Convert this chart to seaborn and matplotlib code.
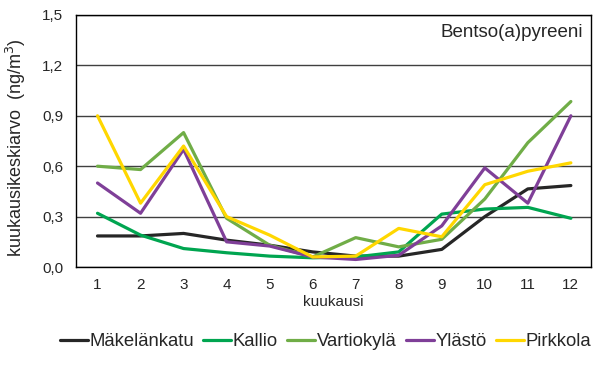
import pandas as pd
import numpy as np
import matplotlib
matplotlib.use("Agg")
import matplotlib.pyplot as plt
import seaborn as sns

# kuukausikeskiarvot (ng/m3), luettu kuvasta
kuukaudet = list(range(1, 13))
makelankatu = [0.185, 0.185, 0.20, 0.16, 0.13, 0.09, 0.065, 0.065, 0.105, 0.30, 0.465, 0.485]
kallio = [0.32, 0.19, 0.11, 0.085, 0.065, 0.055, 0.06, 0.09, 0.315, 0.345, 0.355, 0.29]
vartiokyla = [0.60, 0.58, 0.80, 0.29, 0.13, 0.06, 0.175, 0.12, 0.165, 0.405, 0.74, 0.985]
ylasto = [0.50, 0.32, 0.70, 0.15, 0.125, 0.06, 0.045, 0.07, 0.245, 0.59, 0.38, 0.90]
pirkkola = [0.90, 0.38, 0.72, 0.30, 0.19, 0.06, 0.065, 0.23, 0.18, 0.49, 0.57, 0.62]

asemat = ["Mäkelänkatu", "Kallio", "Vartiokylä", "Ylästö", "Pirkkola"]
värit = ["#262626", "#00A550", "#70AD47", "#7F3F98", "#FFD700"]
y_ticks = [0.0, 0.3, 0.6, 0.9, 1.2, 1.5]

df = pd.DataFrame({
    "kuukausi": kuukaudet * 5,
    "arvo": makelankatu + kallio + vartiokyla + ylasto + pirkkola,
    "asema": [a for a in asemat for _ in kuukaudet],
})

sns.set_style("white")
plt.rcParams['font.family'] = ['Liberation Sans', 'DejaVu Sans']

fig = plt.figure(figsize=(6.06, 3.74), dpi=100)
ax = fig.add_axes([0.1254, 0.286, 0.85, 0.674])

sns.lineplot(data=df, x="kuukausi", y="arvo", hue="asema", palette=värit,
             hue_order=asemat, linewidth=2.3, ax=ax, legend=True)

ax.set_xlim(0.5, 12.47)
ax.set_ylim(0, 1.5)
ax.set_xticks(kuukaudet)
ax.set_xticklabels([str(k) for k in kuukaudet], fontsize=11)
ax.set_yticks(y_ticks)
ax.set_yticklabels([f"{t:.1f}".replace(".", ",") for t in y_ticks], fontsize=11)
ax.tick_params(axis='x', length=0, pad=8)
ax.tick_params(axis='y', length=0, pad=9)
ax.grid(axis='y', color='#404040', linewidth=1)
ax.set_axisbelow(True)
for s in ax.spines.values():
    s.set_color('black')
    s.set_linewidth(1)

ax.set_xlabel("kuukausi", fontsize=11, labelpad=2)
ax.set_ylabel("kuukausikeskiarvo  (ng/m$^3$)", fontsize=13)
ax.yaxis.set_label_coords(-0.093, 0.472)
ax.text(0.985, 0.965, "Bentso(a)pyreeni", transform=ax.transAxes,
        ha='right', va='top', fontsize=13.5)

ax.legend(loc='center left', bbox_to_anchor=(60 / 606, 1 - 342 / 374),
          bbox_transform=fig.transFigure, ncol=5, frameon=False,
          fontsize=13.3, handlelength=1.5, handletextpad=0.1,
          columnspacing=0.5, borderpad=0, borderaxespad=0)

fig.savefig("out.png", dpi=100)
